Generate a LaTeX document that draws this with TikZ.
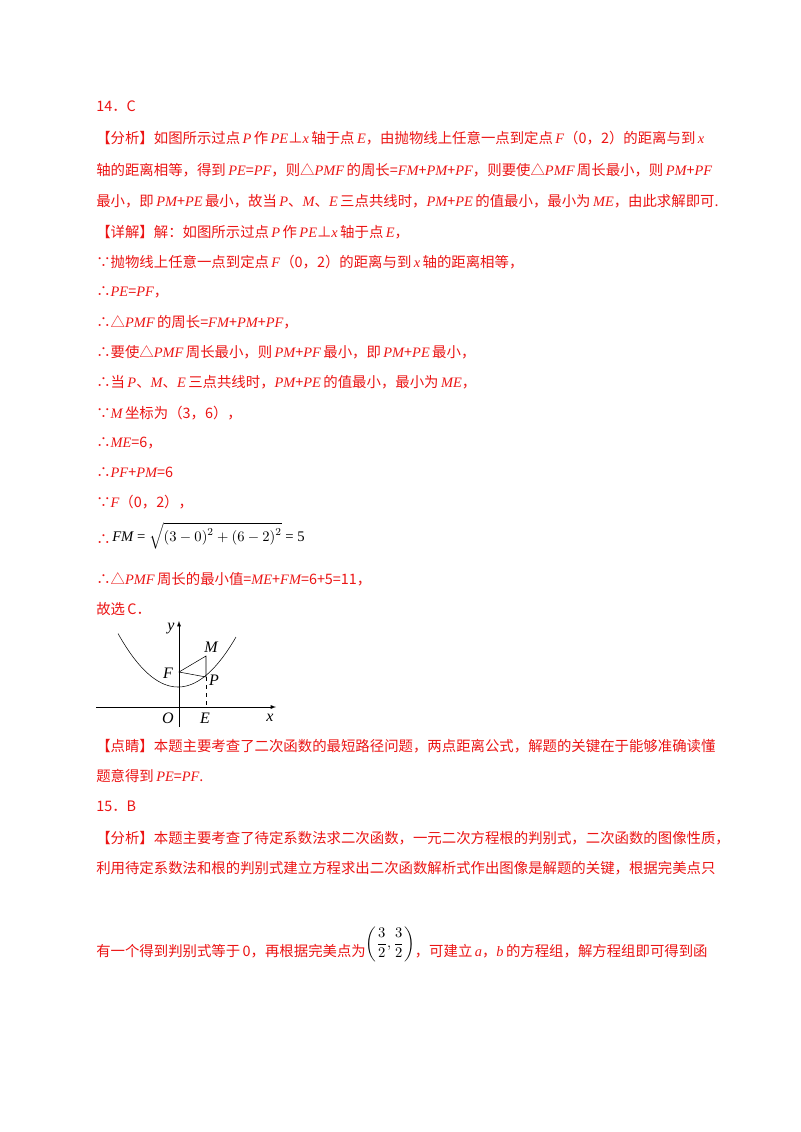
\documentclass[tikz,border=0pt]{standalone}
\usepackage{fontspec}
\usepackage{amsmath}
\setmainfont{Noto Sans CJK SC}
\newfontfamily\tnr{Liberation Serif}
\newcommand{\mi}[1]{{\tnr\itshape #1}}
\definecolor{rd}{RGB}{235,20,20}
\begin{document}
\begin{tikzpicture}[x=0.75pt,y=-0.75pt,
  ln/.style={anchor=west,inner sep=0pt,text=rd,font=\fontsize{10.8pt}{12pt}\selectfont},
  lbl/.style={inner sep=0pt,font=\tnr\itshape\fontsize{12pt}{12pt}\selectfont}]
\useasboundingbox (0,0) rectangle (800,1132);
\node[ln] (l0) at (96,106) {14．C};
\node[ln] (l1) at (96,138) {【分析】如图所示过点\,\mi{P}\,作\,\mi{PE}⊥\mi{x}\,轴于点\,\mi{E}，由抛物线上任意一点到定点\,\mi{F}（0，2）的距离与到\,\mi{x}};
\node[ln] (l2) at (96,170) {轴的距离相等，得到\,\mi{PE}=\mi{PF}，则△\mi{PMF}\,的周长=\mi{FM}+\mi{PM}+\mi{PF}，则要使△\mi{PMF}\,周长最小，则\,\mi{PM}+\mi{PF}};
\node[ln] (l3) at (96,201) {最小，即\,\mi{PM}+\mi{PE}\,最小，故当\,\mi{P}、\mi{M}、\mi{E}\,三点共线时，\mi{PM}+\mi{PE}\,的值最小，最小为\,\mi{ME}，由此求解即可.};
\node[ln] (l4) at (96,232) {【详解】解：如图所示过点\,\mi{P}\,作\,\mi{PE}⊥\mi{x}\,轴于点\,\mi{E}，};
\node[ln] (l5) at (96,262) {∵抛物线上任意一点到定点\,\mi{F}（0，2）的距离与到\,\mi{x}\,轴的距离相等，};
\node[ln] (l6) at (96,292) {∴\mi{PE}=\mi{PF}，};
\node[ln] (l7) at (96,322) {∴△\mi{PMF}\,的周长=\mi{FM}+\mi{PM}+\mi{PF}，};
\node[ln] (l8) at (96,352) {∴要使△\mi{PMF}\,周长最小，则\,\mi{PM}+\mi{PF}\,最小，即\,\mi{PM}+\mi{PE}\,最小，};
\node[ln] (l9) at (96,382) {∴当\,\mi{P}、\mi{M}、\mi{E}\,三点共线时，\mi{PM}+\mi{PE}\,的值最小，最小为\,\mi{ME}，};
\node[ln] (l10) at (96,413) {∵\mi{M}\,坐标为（3，6），};
\node[ln] (l11) at (96,443) {∴\mi{ME}=6，};
\node[ln] (l12) at (96,472) {∴\mi{PF}+\mi{PM}=6};
\node[ln] (l13) at (96,502) {∵\mi{F}（0，2），};
\node[ln] (l14a) at (96,540) {∴};
\node[anchor=west,inner sep=0pt,font=\tnr\fontsize{11pt}{12pt}\selectfont] (l14) at (112,536) {\mi{FM} = $\sqrt{\left(3-0\right)^2+\left(6-2\right)^2}$ = 5};
\node[ln] (l15) at (96,579) {∴△\mi{PMF}\,周长的最小值=\mi{ME}+\mi{FM}=6+5=11，};
\node[ln] (l16) at (96,609) {故选\,C．};
% diagram
\draw[-latex,thin] (96,707) -- (276,707);
\draw[-latex,thin] (179,727) -- (179,621);
\draw[thin,domain=-60:58,samples=60,smooth] plot ({178+\x},{687-50*(\x/58)^2});
\coordinate (F) at (179,672);
\coordinate (M) at (206,656);
\coordinate (P) at (206,677);
\coordinate (E) at (206,707);
\draw[thin] (F) -- (M) -- (P) -- cycle;
\draw[thin,dashed] (P) -- (E);
\node[lbl] (ty) at (171,629) {y};
\node[lbl] (tM) at (211,647) {M};
\node[lbl] (tF) at (168,673) {F};
\node[lbl] (tP) at (214,680) {P};
\node[lbl] (tO) at (168,718) {O};
\node[lbl] (tE) at (205,718) {E};
\node[lbl] (tx) at (270,718) {x};
\node[ln] (l17) at (96,746) {【点睛】本题主要考查了二次函数的最短路径问题，两点距离公式，解题的关键在于能够准确读懂};
\node[ln] (l18) at (96,776) {题意得到\,\mi{PE}=\mi{PF}.};
\node[ln] (l19) at (96,806) {15．B};
\node[ln] (l20) at (96,838) {【分析】本题主要考查了待定系数法求二次函数，一元二次方程根的判别式，二次函数的图像性质，};
\node[ln] (l21) at (96,868) {利用待定系数法和根的判别式建立方程求出二次函数解析式作出图像是解题的关键，根据完美点只};
\node[ln] (l22) at (96,944) {有一个得到判别式等于\,0，再根据完美点为\raisebox{7pt}{\tnr\fontsize{10.5pt}{12pt}\selectfont\color{black}$\displaystyle\left(\frac{3}{2},\frac{3}{2}\right)$}，可建立\,\mi{a}，\mi{b}\,的方程组，解方程组即可得到函};
\end{tikzpicture}
\end{document}
